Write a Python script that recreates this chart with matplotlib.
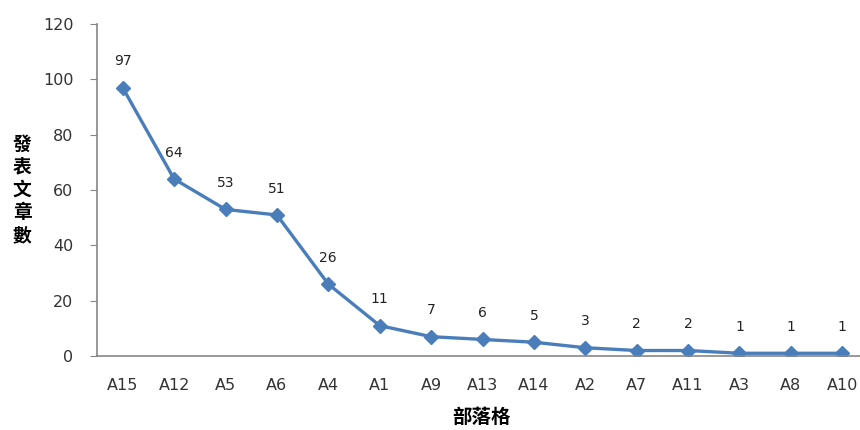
import matplotlib
matplotlib.use("Agg")
import matplotlib.pyplot as plt

plt.rcParams['font.family'] = ['Noto Sans CJK TC', 'DejaVu Sans']

# blogs and number of posted articles, sorted descending
blogs = ['A15', 'A12', 'A5', 'A6', 'A4', 'A1', 'A9', 'A13', 'A14',
         'A2', 'A7', 'A11', 'A3', 'A8', 'A10']
articles = [97, 64, 53, 51, 26, 11, 7, 6, 5, 3, 2, 2, 1, 1, 1]
y_ticks = [0, 20, 40, 60, 80, 100, 120]

fig = plt.figure(figsize=(8.6, 4.3), dpi=100)
ax = fig.add_axes([0.1128, 0.172, 0.8965, 0.772])

x = list(range(len(blogs)))
ax.plot(x, articles, color='#4A7EBB', linewidth=2.4, marker='D',
        markersize=7, markerfacecolor='#4A7EBB', markeredgecolor='#4A7EBB')

for xi, v in zip(x, articles):
    ax.annotate(str(v), (xi, v), textcoords='offset points', xytext=(0, 19),
                ha='center', va='center', fontsize=10, color='#222222',
                family='DejaVu Sans')

ax.set_xlim(-0.5, len(blogs) - 0.5)
ax.set_ylim(0, 120)
ax.set_yticks(y_ticks)
ax.set_xticks(x)
ax.set_xticklabels(blogs)

for lab in ax.get_xticklabels() + ax.get_yticklabels():
    lab.set_family('DejaVu Sans')
    lab.set_fontsize(11.5)
    lab.set_color('#333333')

ax.tick_params(axis='y', length=5, color='#868686', pad=12)
ax.tick_params(axis='x', length=0, pad=16)

for side in ['top', 'right']:
    ax.spines[side].set_visible(False)
for side in ['left', 'bottom']:
    ax.spines[side].set_color('#868686')
    ax.spines[side].set_linewidth(1.2)

fig.text(0.026, 0.558, '\n'.join('發表文章數'), ha='center', va='center',
         fontsize=13.5, fontweight='bold', linespacing=1.25)
fig.text(0.56, 0.03, '部落格', ha='center', va='center',
         fontsize=14, fontweight='bold')

fig.savefig('out.png', dpi=100)
